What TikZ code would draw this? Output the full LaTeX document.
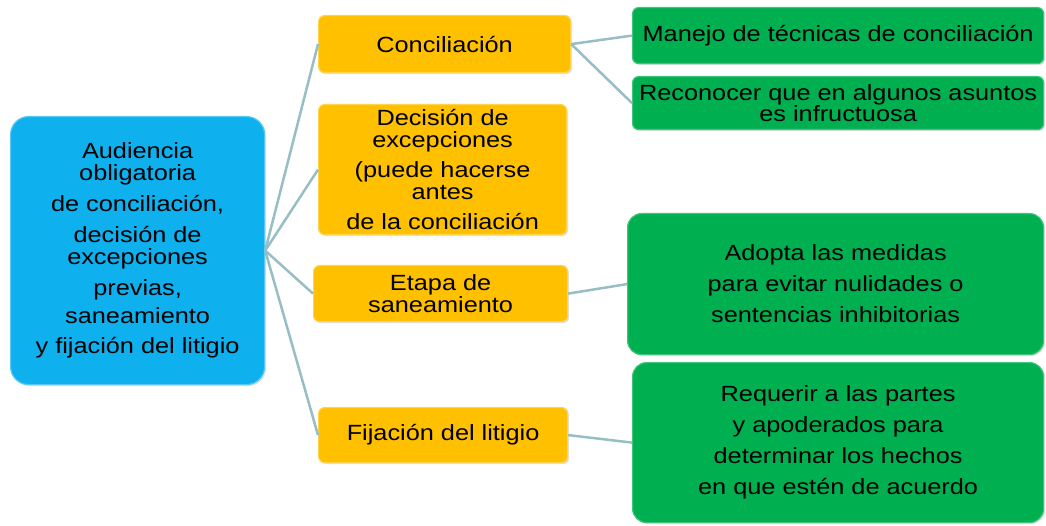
\documentclass[tikz,border=0pt]{standalone}
\usepackage{fontspec}
\setmainfont{Liberation Sans}[FakeStretch=1.15]
\usetikzlibrary{shadows}
\definecolor{cblue}{RGB}{14,176,238}
\definecolor{corange}{RGB}{255,192,0}
\definecolor{cgreen}{RGB}{0,176,80}
\definecolor{cline}{RGB}{150,190,196}
\begin{document}
\begin{tikzpicture}[x=1pt,y=-1pt,
  base/.style={anchor=north west, inner sep=0pt, align=center,
    font=\fontsize{22}{22}\selectfont, line width=1.2pt,
    drop shadow={opacity=0.25, shadow xshift=1.5pt, shadow yshift=-1.5pt}},
  rootbox/.style={base, rounded corners=18pt, fill=cblue, draw=cblue!70!white},
  obox/.style={base, rounded corners=6pt, fill=corange, draw=corange!70!white},
  gbox/.style={base, rounded corners=6pt, fill=cgreen, draw=cgreen!75!white},
  gbigbox/.style={base, rounded corners=14pt, fill=cgreen, draw=cgreen!75!white},
  conn/.style={draw=cline, line width=2.5pt}]
\useasboundingbox (0,0) rectangle (1046,526);
\node[rootbox, minimum width=254pt, minimum height=268pt] (root) at (10,116)
  {Audiencia\\ obligatoria\\[9pt] de conciliación,\\[9pt] decisión de\\ excepciones\\[9pt] previas,\\[6pt] saneamiento\\[8pt] y fijación del litigio};
\node[obox, minimum width=252pt, minimum height=57pt] (conc) at (318,15) {Conciliación};
\node[obox, minimum width=248pt, minimum height=130pt] (dec) at (318,104)
  {Decisión de\\ excepciones\\[8pt] (puede hacerse\\ antes\\[8pt] de la conciliación};
\node[obox, minimum width=254pt, minimum height=56pt] (etapa) at (313,265) {Etapa de\\ saneamiento};
\node[obox, minimum width=249pt, minimum height=55pt] (fij) at (318,407) {Fijación del litigio};
\node[gbox, minimum width=411pt, minimum height=56pt] (manejo) at (632,7) {Manejo de técnicas de conciliación};
\node[gbox, minimum width=411pt, minimum height=53pt, font=\fontsize{22}{20}\selectfont] (recon) at (632,76) {Reconocer que en algunos asuntos\\ es infructuosa};
\node[gbigbox, minimum width=416pt, minimum height=141pt] (adopta) at (627,213)
  {Adopta las medidas\\[9pt] para evitar nulidades o\\[9pt] sentencias inhibitorias};
\node[gbigbox, minimum width=411pt, minimum height=160pt] (req) at (632,362)
  {Requerir a las partes\\[9pt] y apoderados para\\[9pt] determinar los hechos\\[9pt] en que estén de acuerdo};
\draw[conn] (root.east) -- (conc.west);
\draw[conn] (root.east) -- (dec.west);
\draw[conn] (root.east) -- (etapa.west);
\draw[conn] (root.east) -- (fij.west);
\draw[conn] (conc.east) -- (manejo.west);
\draw[conn] (conc.east) -- (recon.west);
\draw[conn] (etapa.east) -- (adopta.west);
\draw[conn] (fij.east) -- (req.west);
\end{tikzpicture}
\end{document}
